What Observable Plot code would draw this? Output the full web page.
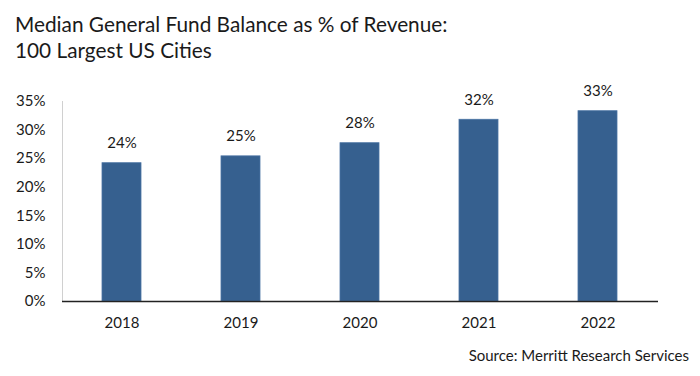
<!DOCTYPE html>
<html><head><meta charset="utf-8">
<script src="https://cdn.jsdelivr.net/npm/d3@7"></script>
<script src="https://cdn.jsdelivr.net/npm/@observablehq/plot@0.6"></script>
<style>
body{margin:0;background:#fff;font-family:Lato,"Open Sans",sans-serif;color:#1a1a1a;width:700px;height:376px;overflow:hidden}
#title{height:80px;box-sizing:border-box;padding:11px 0 0 15px;font-size:20.8px;line-height:26px;color:#1a1a1a}
#chart svg{display:block}
#cap{height:36px;text-align:right;padding-right:11px;font-size:15px;line-height:30px;color:#1a1a1a}
</style></head>
<body>
<div id="title">Median General Fund Balance as % of Revenue:<br>100 Largest US Cities</div>
<div id="chart"></div>
<div id="cap">Source: Merritt Research Services</div>
<script>
const years = ["2018","2019","2020","2021","2022"];
const values = [24.2, 25.4, 27.7, 31.8, 33.3];
const labels = ["24%","25%","28%","32%","33%"];
const yTicks = [0,5,10,15,20,25,30,35];
const data = years.map((y,i)=>({year:y, value:values[i], label:labels[i]}));
const chart = Plot.plot({
  width:700, height:260,
  marginTop:21, marginBottom:39, marginLeft:62, marginRight:42,
  style:{fontFamily:"Lato, sans-serif", fontSize:"15px", color:"#1a1a1a", background:"#fff"},
  x:{domain:years, paddingInner:0.67, paddingOuter:0.33, label:null, tickSize:0, tickPadding:16},
  y:{domain:[0,35], ticks:yTicks, tickFormat:d=>d+"%", label:null, tickSize:0, tickPadding:17},
  marks:[
    Plot.frame({anchor:"left", stroke:"#d0d0d0", strokeWidth:1}),
    Plot.barY(data,{x:"year", y:"value", fill:"#36608f", stroke:"#4a73a3", strokeWidth:0.8}),
    Plot.text(data,{x:"year", y:"value", text:"label", dy:-20, fontSize:15, fill:"#1a1a1a"}),
    Plot.ruleY([0],{stroke:"#222", strokeWidth:1.5})
  ]
});
document.getElementById("chart").append(chart);
</script>
</body></html>
